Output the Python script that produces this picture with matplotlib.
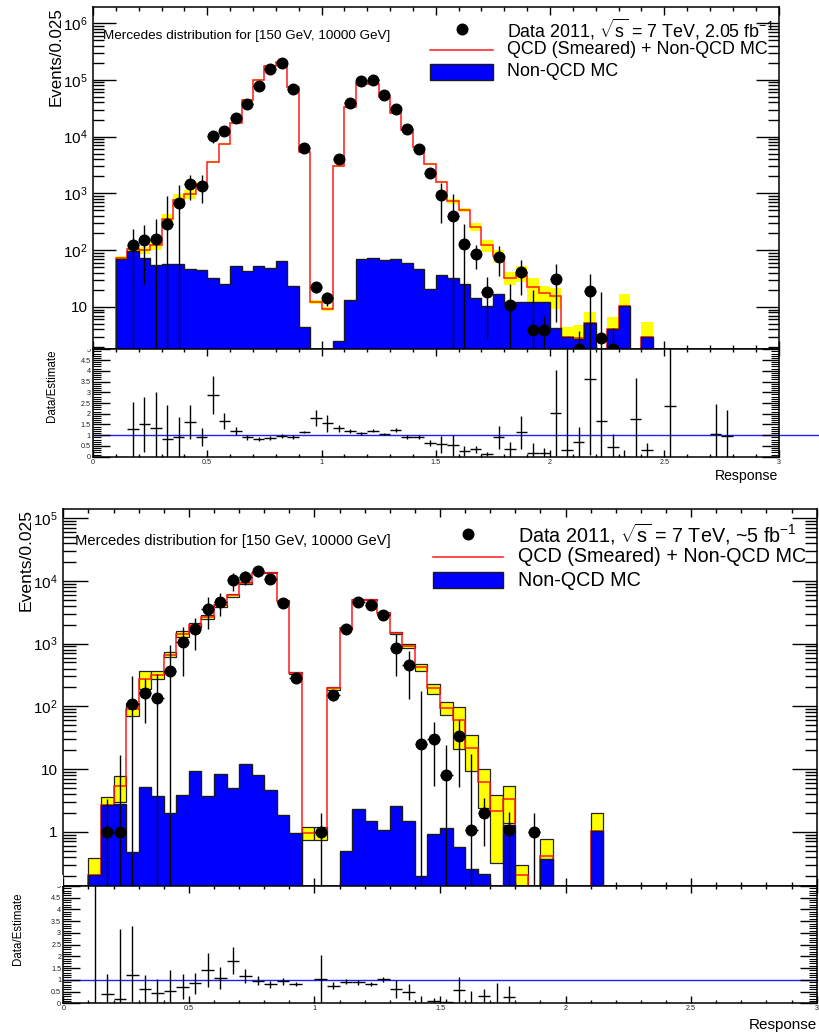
import numpy as np
import matplotlib
matplotlib.use('Agg')
import matplotlib.pyplot as plt
from matplotlib.ticker import MultipleLocator, LogLocator, FuncFormatter, NullFormatter
from matplotlib.patches import Rectangle
from matplotlib.lines import Line2D

plt.rcParams['font.family'] = ['Liberation Sans', 'DejaVu Sans']
plt.rcParams['mathtext.fontset'] = 'custom'
plt.rcParams['mathtext.rm'] = 'Liberation Sans'
plt.rcParams['mathtext.it'] = 'Liberation Sans:italic'
plt.rcParams['mathtext.bf'] = 'Liberation Sans:bold'

# binning: 0.05 wide bins starting at 0.1
first_edge = 0.1
bin_width = 0.05

# ---------------- 2.05 fb-1 ----------------
nonqcd_a = [68.8, 95, 73.8, 55.5, 57.8, 57, 47.2, 45.3, 32.2, 24.9,
            51.8, 43.5, 52, 48.4, 65.3, 23.3, 4.5, 0, 0, 2.5,
            13, 68.8, 73.8, 66, 70, 59, 46, 21, 37, 32.7,
            24.9, 14.5, 10.2, 16.6, 12.2, 12.2, 12.4, 12.4, 4.3, 2.9,
            2.75, 5.3, 0, 4.0, 10.2, 0, 3.0]
total_a = [73, 103, 99, 121, 360, 755, 990, 1446, 3580, 7550,
           17460, 43850, 97800, 174800, 208000, 73500, 5370, 12.2, 9.3, 3040,
           33400, 88500, 84000, 50100, 26200, 13300, 6580, 3350, 1589, 735,
           504, 255, 121, 78.7, 32.7, 40, 22.3, 17.5, 15.3, 3.0,
           2.8, 5.3, 0, 4.0, 10.2, 0, 3.0]
mc_err_a = [6, 10, 13, 22, 75, 210, 180, 120, 140, 300,
            700, 1700, 3900, 7000, 8300, 2900, 210, 1.0, 0.8, 120,
            1300, 3500, 3300, 2000, 1000, 530, 260, 130, 64, 74,
            43, 41, 29, 20, 8.5, 12.4, 10.3, 6.1, 6.0, 1.4,
            2.0, 2.8, 0, 2.6, 6.4, 0, 2.4]
data_a = [0, 121, 149, 160, 293, 689, 1446, 1370, 10200, 12450,
          20900, 37300, 79500, 154500, 194500, 67700, 6240, 22.3, 14.3, 4110,
          39800, 96200, 98900, 53700, 31300, 13900, 6150, 2290, 925, 395,
          126, 84, 18.2, 75.5, 10.6, 41, 3.86, 3.86, 31.4, 0,
          1.85, 19, 2.82, 1.85, 0, 0, 0]
data_err_a = [0, 119, 124, 200, 600, 700, 680, 700, 2400, 1500,
              1500, 2000, 3000, 4000, 4000, 2000, 400, 4.5, 3.8, 250,
              1000, 2000, 2000, 1500, 1000, 700, 500, 400, 630, 565,
              167, 38, 15.5, 41, 15, 25, 15.6, 3, 26, 0,
              1.9, 18.4, 15.5, 2.4, 0, 0, 0]
ratio_a = [0, 1.27, 1.5, 1.32, 0.82, 0.93, 1.63, 0.92, 2.87, 1.66,
           1.2, 0.9, 0.82, 0.88, 0.96, 0.92, 1.15, 1.82, 1.55, 1.32,
           1.2, 1.09, 1.2, 1.04, 1.23, 0.93, 0.93, 0.65, 0.57, 0.53,
           0.26, 0.34, 0.12, 0.9, 0.34, 1.13, 0.16, 0.19, 2.05, 0.31,
           0.68, 3.6, 1.68, 0.47, 0.0, 1.75, 0.31, np.nan, 2.38, np.nan,
           np.nan, np.nan, 1.06, 0.98]
ratio_err_a = [0, 1.27, 1.28, 1.7, 1.6, 0.93, 0.8, 0.43, 0.88, 0.37,
               0.18, 0.1, 0.1, 0.08, 0.08, 0.08, 0.05, 0.37, 0.41, 0.15,
               0.1, 0.08, 0.07, 0.05, 0.1, 0.1, 0.1, 0.15, 0.4, 0.5,
               0.25, 0.18, 0.1, 0.52, 0.35, 0.78, 0.5, 0.2, 2.0, 5.5,
               0.7, 3.5, 5.5, 0.6, 0.3, 1.9, 0.35, np.nan, 5.0, np.nan,
               np.nan, np.nan, 1.4, 1.2]

# ---------------- ~5 fb-1 ----------------
nonqcd_b = [0.206, 2.63, 2.8, 0.47, 5.14, 3.66, 1.98, 3.89, 9.16, 3.66,
            8.4, 5.03, 12.2, 7.9, 4.68, 1.87, 0.95, 0, 0, 0,
            0.485, 2.33, 1.51, 1.05, 2.53, 1.51, 0.196, 0.93, 1.14, 0.57,
            0.256, 0.214, 0, 1.26, 0, 0, 0.37, 0, 0, 0,
            1.02]
total_b = [0.206, 2.63, 5.34, 91.6, 276, 319, 665, 1440, 2000, 2650,
           4070, 5870, 9360, 13500, 13500, 4770, 339, 0.95, 0.97, 195,
           1770, 5020, 5020, 3070, 1470, 912, 422, 195, 95, 59.6,
           21.9, 6.18, 2.11, 3.36, 0.206, 0, 0.408, 0, 0, 0,
           1.02]
mc_err_b = [0.17, 0.97, 2.4, 22, 90, 50, 60, 150, 150, 200,
            200, 250, 400, 300, 300, 150, 15, 0.22, 0.24, 10,
            60, 150, 150, 120, 70, 70, 55, 35, 22, 39,
            12.6, 3.76, 1.79, 2.0, 0.09, 0, 0.37, 0, 0, 0,
            0.98]
data_b = [0, 1.0, 1.0, 110, 165, 137, 364, 1057, 1690, 3610,
          4590, 10190, 11500, 14200, 10840, 4430, 282, 0, 1.0, 149,
          1690, 4590, 4170, 2900, 860, 449, 24.7, 30.4, 8.1, 33.1,
          1.05, 2.0, 0, 1.05, 0, 1.0, 0, 0, 0, 0,
          0]
data_err_b = [0, 2.3, 15.9, 200, 110, 190, 585, 750, 900, 1900,
              1870, 3350, 2800, 2560, 2000, 670, 34, 0, 1.0, 29,
              177, 400, 400, 300, 560, 320, 150, 25, 16, 28,
              16.5, 1.4, 0, 1.0, 0, 1.0, 0, 0, 0, 0,
              0]
ratio_b = [0, 0.38, 0.18, 1.19, 0.6, 0.43, 0.54, 0.71, 0.85, 1.42,
           1.09, 1.82, 1.16, 0.97, 0.81, 0.94, 0.82, np.nan, 1.03, 0.75,
           0.92, 0.9, 0.82, 1.02, 0.61, 0.48, 0.03, 0.11, 0.07, 0.57,
           0.03, 0.31, 0.0, 0.28]
ratio_err_b = [6, 0.87, 2.97, 2.1, 0.6, 0.6, 0.88, 0.52, 0.45, 0.72,
               0.46, 0.57, 0.3, 0.19, 0.15, 0.14, 0.1, np.nan, 1.05, 0.15,
               0.1, 0.1, 0.1, 0.1, 0.38, 0.35, 0.3, 0.1, 0.1, 0.55,
               0.5, 0.3, 0.85, 0.46]

W, H = 819, 1036
fig = plt.figure(figsize=(W / 100, H / 100), dpi=100)


def fx(x):
    return x / W


def fy(y):
    return 1 - y / H


def box(l, t, r, b):
    return [fx(l), fy(b), (r - l) / W, (b - t) / H]


def log_label(v, pos):
    if np.isclose(v, 1):
        return '1'
    if np.isclose(v, 10):
        return '10'
    return r'$10^{%d}$' % round(np.log10(v))


def draw_main(ax, nonqcd, total, mc_err, data, data_err, ylim, boxed, tick_px):
    nonqcd = np.asarray(nonqcd, float)
    total = np.asarray(total, float)
    mc_err = np.asarray(mc_err, float)
    data = np.asarray(data, float)
    data_err = np.asarray(data_err, float)
    n = len(total)
    edges = first_edge + bin_width * np.arange(n + 1)
    centres = edges[:-1] + bin_width / 2
    tiny = 1e-4

    # uncertainty band on the total estimate
    sel = mc_err > 0
    lo = np.clip(total - mc_err, tiny, None)
    hi = total + mc_err
    ax.bar(edges[:-1][sel], (hi - lo)[sel], bottom=lo[sel], width=bin_width,
           align='edge', color='#ffff00',
           edgecolor='#222222' if boxed else 'none',
           linewidth=0.9 if boxed else 0, zorder=1)

    # total = QCD (smeared) + non-QCD
    ax.stairs(np.where(total > 0, total, tiny), edges, baseline=tiny,
              color='#ff1a1a', linewidth=1.1, zorder=2)

    # non-QCD MC
    nq = np.where(nonqcd > 0, nonqcd, tiny)
    ax.stairs(nq, edges, baseline=tiny, fill=True, facecolor='#0000ff',
              linewidth=0, zorder=3)
    ax.stairs(nq, edges, baseline=tiny, color='#1a1a1a', linewidth=1.0,
              zorder=3.5)

    # data
    m = data > 0
    low = np.where(data_err >= data, data - tiny, data_err)
    ax.errorbar(centres[m], data[m], yerr=[low[m], data_err[m]],
                xerr=bin_width / 2, fmt='o', ms=7.6, color='black',
                ecolor='black', elinewidth=1.0, capsize=0, zorder=5)

    ax.set_xlim(0, 3)
    ax.set_yscale('log')
    ax.set_ylim(*ylim)
    ax.xaxis.set_major_locator(MultipleLocator(0.5))
    ax.xaxis.set_minor_locator(MultipleLocator(0.1))
    ax.yaxis.set_major_locator(LogLocator(base=10))
    ax.yaxis.set_minor_locator(LogLocator(base=10, subs=np.arange(2, 10)))
    ax.yaxis.set_major_formatter(FuncFormatter(log_label))
    ax.yaxis.set_minor_formatter(NullFormatter())
    ax.tick_params(axis='x', which='both', direction='in', top=True,
                   bottom=True, labelbottom=False)
    ax.tick_params(axis='x', which='major', length=5.5, width=1)
    ax.tick_params(axis='x', which='minor', length=3, width=1)
    ax.tick_params(axis='y', which='both', direction='in', left=True,
                   right=True, labelsize=11, pad=4)
    ax.tick_params(axis='y', which='major', length=tick_px * 0.72, width=1)
    ax.tick_params(axis='y', which='minor', length=tick_px * 0.36, width=1)
    for s in ax.spines.values():
        s.set_linewidth(1.1)


def draw_ratio(ax, ratio, ratio_err, line_end):
    ratio = np.asarray(ratio, float)
    ratio_err = np.asarray(ratio_err, float)
    centres = first_edge + bin_width * (np.arange(len(ratio)) + 0.5)
    m = ~np.isnan(ratio)
    ax.plot([0, line_end], [1, 1], color='#1f1fff', linewidth=1.0,
            clip_on=False, zorder=1)
    ax.errorbar(centres[m], ratio[m], yerr=ratio_err[m], xerr=bin_width / 2,
                fmt='none', ecolor='black', elinewidth=1.0, capsize=0,
                zorder=2)
    ax.set_xlim(0, 3)
    ax.set_ylim(0, 5)
    ax.xaxis.set_major_locator(MultipleLocator(0.5))
    ax.xaxis.set_minor_locator(MultipleLocator(0.1))
    ax.yaxis.set_major_locator(MultipleLocator(0.5))
    ax.yaxis.set_minor_locator(MultipleLocator(0.1))
    ax.xaxis.set_major_formatter(FuncFormatter(lambda v, p: '%g' % v))
    ax.yaxis.set_major_formatter(FuncFormatter(lambda v, p: '%g' % v))
    ax.tick_params(axis='both', which='both', direction='in', top=True,
                   bottom=True, left=True, right=True, labelsize=5.2,
                   pad=1.5, labelcolor='#222222')
    ax.tick_params(axis='x', which='major', length=5, width=1)
    ax.tick_params(axis='x', which='minor', length=2.5, width=1)
    ax.tick_params(axis='y', which='major', length=12, width=1)
    ax.tick_params(axis='y', which='minor', length=6, width=0.8)
    for s in ax.spines.values():
        s.set_linewidth(1.1)


# ----- upper figure: 2.05 fb-1 -----
ax1 = fig.add_axes(box(93, 7.3, 778.5, 348.5))
draw_main(ax1, nonqcd_a, total_a, mc_err_a, data_a, data_err_a,
          (1.85, 1.9e6), False, 23)
ax1r = fig.add_axes(box(93, 349.3, 778.5, 456.7))
draw_ratio(ax1r, ratio_a, ratio_err_a, 3.176)

# ----- lower figure: ~5 fb-1 -----
ax2 = fig.add_axes(box(63.3, 509, 816.7, 885.5))
draw_main(ax2, nonqcd_b, total_b, mc_err_b, data_b, data_err_b,
          (0.139, 1.4e5), True, 25)
ax2r = fig.add_axes(box(63.3, 886, 816.7, 1003.3))
draw_ratio(ax2r, ratio_b, ratio_err_b, 3.0)

# the upper pad hides the top half of the ratio pad's "5" label
for l, t, r, b in [(68, 338, 92, 348.6), (38, 875, 62.5, 885.7)]:
    fig.add_artist(Rectangle((fx(l), fy(b)), (r - l) / W, (b - t) / H,
                             facecolor='white', edgecolor='none',
                             transform=fig.transFigure, zorder=10))

# axis titles
fig.text(fx(56), fy(7), 'Events/0.025', rotation=90, ha='center', va='top',
         fontsize=12.2)
fig.text(fx(26), fy(509), 'Events/0.025', rotation=90, ha='center',
         va='top', fontsize=12.6)
fig.text(fx(51.5), fy(386), 'Data/Estimate', rotation=90, ha='center',
         va='center', fontsize=8.3)
fig.text(fx(18.3), fy(929), 'Data/Estimate', rotation=90, ha='center',
         va='center', fontsize=8.3)
fig.text(fx(778.5), fy(476), 'Response', ha='right', va='center',
         fontsize=10.1)
fig.text(fx(816.7), fy(1025), 'Response', ha='right', va='center',
         fontsize=11)

fig.text(fx(103), fy(35.5), 'Mercedes distribution for [150 GeV, 10000 GeV]',
         ha='left', va='center', fontsize=9.7)
fig.text(fx(75), fy(541), 'Mercedes distribution for [150 GeV, 10000 GeV]',
         ha='left', va='center', fontsize=10.6)


def legend(x0, x1, xt, y_data, y_line, box_top, box_bot, y_box, lumi, size):
    fig.add_artist(Line2D([fx((x0 + x1) / 2)], [fy(y_data)], marker='o',
                          ms=7.6, color='black', linestyle='none',
                          transform=fig.transFigure))
    fig.add_artist(Line2D([fx(x0), fx(x1)], [fy(y_line)] * 2,
                          color='#ff1a1a', linewidth=1.1,
                          transform=fig.transFigure))
    fig.add_artist(Rectangle((fx(x0), fy(box_bot)), (x1 - x0) / W,
                             (box_bot - box_top) / H, facecolor='#0000ff',
                             edgecolor='#1a1a1a', linewidth=1.0,
                             transform=fig.transFigure))
    fig.text(fx(xt), fy(y_data),
             r'Data 2011, $\sqrt{\mathrm{s}}$ = 7 TeV, ' + lumi + r' fb$^{-1}$',
             ha='left', va='center', fontsize=size)
    fig.text(fx(xt), fy(y_line), 'QCD (Smeared) + Non-QCD MC', ha='left',
             va='center', fontsize=size)
    fig.text(fx(xt), fy(y_box), 'Non-QCD MC', ha='left', va='center',
             fontsize=size)


legend(430, 493, 507, 29, 50, 64, 80, 72, '2.05', 12.9)
legend(433, 503, 518, 534, 557, 572, 588, 580, '~5', 14.2)

fig.savefig('out.png', dpi=100)
